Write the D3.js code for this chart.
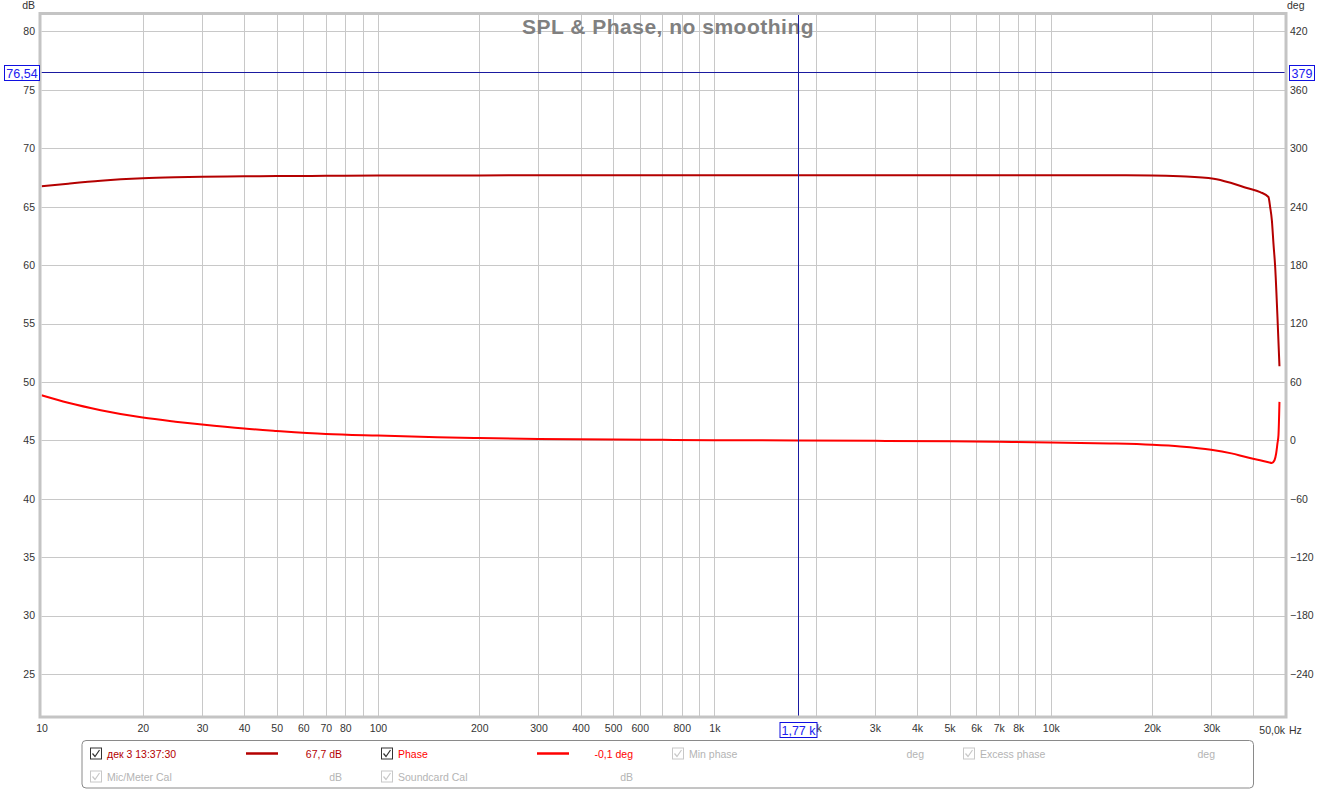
<!DOCTYPE html>
<html><head><meta charset="utf-8">
<script src="https://cdn.jsdelivr.net/npm/d3@7"></script>
<style>
html,body{margin:0;padding:0;background:#fff;}
svg{display:block;font-family:Arial,"Liberation Sans",sans-serif;}
</style></head>
<body>
<svg id="c" width="1337" height="790"></svg>
<script>
// ---- data ----
const splFreq = [10,12,15,20,25,30,40,50,70,100,150,200,300,500,1000,1770,3000,5000,10000,15000,20000,24200,30470,34400,38250,41900,44340,44860,45390,45890,46430,47160,47810];
const splDb   = [66.74,66.97,67.22,67.43,67.52,67.57,67.60,67.62,67.64,67.66,67.67,67.68,67.69,67.70,67.70,67.70,67.69,67.69,67.69,67.69,67.67,67.60,67.40,67.03,66.60,66.25,65.83,64.97,63.83,61.84,59.84,55.56,51.35];
const phaseFreq = [10,12,15,20,25,30,40,50,70,100,150,200,300,500,700,1000,1770,3000,5000,7000,10000,15000,20000,24240,29950,34420,38240,41870,44340,45390,46210,46740,47160,47490,47810];
const phaseDeg  = [46.3,38.6,31.0,23.4,19.2,16.2,12.1,9.7,6.6,4.9,3.3,2.4,1.5,0.8,0.5,0.2,-0.1,-0.5,-1.0,-1.5,-2.1,-3.2,-4.6,-6.3,-9.6,-13.4,-17.4,-20.4,-22.4,-23.2,-20.4,-13.5,-3.2,5.3,39.5];
const dbTicks  = [25,30,35,40,45,50,55,60,65,70,75,80];
const degTicks = [-240,-180,-120,-60,0,60,120,180,240,300,360,420];
const xTickVals = [10,20,30,40,50,60,70,80,100,200,300,400,500,600,800,1000,2000,3000,4000,5000,6000,7000,8000,10000,20000,30000];
const xGridVals = [20,30,40,50,60,70,80,90,100,200,300,400,500,600,700,800,900,1000,2000,3000,4000,5000,6000,7000,8000,9000,10000,20000,30000,40000];
const cursor = {freq:1770, db:76.54, freqLabel:"1,77 k", dbLabel:"76,54", degLabel:"379"};
const legendRow1 = [
  {label:"дек 3 13:37:30", value:"67,7 dB", color:"#b40000", line:true, active:true},
  {label:"Phase", value:"-0,1 deg", color:"#ff0000", line:true, active:true},
  {label:"Min phase", value:"deg", color:"#b4b4b4", line:false, active:false},
  {label:"Excess phase", value:"deg", color:"#b4b4b4", line:false, active:false}
];
const legendRow2 = [
  {label:"Mic/Meter Cal", value:"dB", color:"#b4b4b4", line:false, active:false},
  {label:"Soundcard Cal", value:"dB", color:"#b4b4b4", line:false, active:false}
];

// ---- layout ----
const L=41.5, R=1286, T=14.5, B=717;
const svg = d3.select("#c");
const x = d3.scaleLog().domain([10,50000]).range([L,R]);
const y = d3.scaleLinear().domain([21.32,81.45]).range([B,T]);
const y2 = d3.scaleLinear().domain([(21.32-45)*12,(81.45-45)*12]).range([B,T]);
const px = v => Math.round(v)+0.5;
const fs = "10.5px";

svg.append("defs").append("clipPath").attr("id","clip")
  .append("rect").attr("x",L).attr("y",T).attr("width",R-L).attr("height",B-T);

// grid
const grid = svg.append("g").attr("stroke","#c8c8c8").attr("stroke-width",1);
grid.selectAll("line.v").data(xGridVals).join("line")
  .attr("x1",d=>px(x(d))).attr("x2",d=>px(x(d))).attr("y1",T).attr("y2",B);
grid.selectAll("line.h").data(dbTicks).join("line")
  .attr("y1",d=>px(y(d))).attr("y2",d=>px(y(d))).attr("x1",L).attr("x2",R);

// title
svg.append("text").attr("x",668).attr("y",34).attr("text-anchor","middle")
  .attr("font-size","21px").attr("font-weight","bold").attr("fill","#808080")
  .attr("letter-spacing","0.5px")
  .text("SPL & Phase, no smoothing");

// curves
const plot = svg.append("g").attr("clip-path","url(#clip)");
const splPts = splFreq.map((f,i)=>[x(f),y(splDb[i])]);
const phPts = phaseFreq.map((f,i)=>[x(f),y2(phaseDeg[i])]);
const line = d3.line().curve(d3.curveMonotoneX);
plot.append("path").attr("d",line(phPts)).attr("fill","none").attr("stroke","#ff0000").attr("stroke-width",2);
plot.append("path").attr("d",line(splPts)).attr("fill","none").attr("stroke","#b40000").attr("stroke-width",2);

// cursor lines
const cx = px(x(cursor.freq)), cy = px(y(cursor.db));
plot.append("line").attr("x1",cx).attr("x2",cx).attr("y1",T).attr("y2",B).attr("stroke","#1a1aa0").attr("stroke-width",1);
svg.append("line").attr("x1",L).attr("x2",R).attr("y1",cy).attr("y2",cy).attr("stroke","#1a1aa0").attr("stroke-width",1);

// frame
svg.append("rect").attr("x",40).attr("y",13.5).attr("width",1246).attr("height",703.5)
  .attr("fill","none").attr("stroke","#c4c4c4").attr("stroke-width",3);

// axes labels
const yAxisL = d3.axisLeft(y).tickValues(dbTicks).tickSize(0).tickPadding(0);
svg.append("g").attr("transform",`translate(35,0)`).call(yAxisL)
  .call(g=>g.select(".domain").remove())
  .selectAll("text").attr("font-size",fs).attr("fill","#333").attr("font-family","Arial,'Liberation Sans',sans-serif");
const yAxisR = d3.axisRight(y2).tickValues(degTicks).tickSize(0).tickPadding(0);
svg.append("g").attr("transform",`translate(1290,0)`).call(yAxisR)
  .call(g=>g.select(".domain").remove())
  .selectAll("text").attr("font-size",fs).attr("fill","#333").attr("font-family","Arial,'Liberation Sans',sans-serif");
const xfmt = v => v<1000 ? String(v) : (v/1000)+"k";
const xAxis = d3.axisBottom(x).tickValues(xTickVals).tickFormat(xfmt).tickSize(0).tickPadding(0);
svg.append("g").attr("transform",`translate(0,725)`).call(xAxis)
  .call(g=>g.select(".domain").remove())
  .selectAll("text").attr("font-size",fs).attr("fill","#333").attr("font-family","Arial,'Liberation Sans',sans-serif");
svg.append("text").attr("x",1285).attr("y",734).attr("text-anchor","end").attr("font-size",fs).attr("fill","#333").text("50,0k");
svg.append("text").attr("x",1289).attr("y",734).attr("font-size",fs).attr("fill","#333").text("Hz");
svg.append("text").attr("x",35).attr("y",9).attr("text-anchor","end").attr("font-size",fs).attr("fill","#333").text("dB");
svg.append("text").attr("x",1287).attr("y",9).attr("font-size",fs).attr("fill","#333").text("deg");

// cursor boxes
function cbox(x0,y0,w,h,t){
  svg.append("rect").attr("x",x0+0.5).attr("y",y0+0.5).attr("width",w).attr("height",h)
    .attr("fill","#fff").attr("stroke","#1010e0").attr("stroke-width",1);
  svg.append("text").attr("x",x0+w/2+0.5).attr("y",y0+h/2+5).attr("text-anchor","middle")
    .attr("font-size","12.5px").attr("fill","#2020f0").text(t);
}
cbox(4, cy-7.5, 35, 15, cursor.dbLabel);
cbox(1289, cy-7.5, 25, 15, cursor.degLabel);
cbox(cx-19, 722, 37, 15, cursor.freqLabel);

// legend
svg.append("rect").attr("x",82).attr("y",740.5).attr("width",1171.5).attr("height",47.5).attr("rx",4)
  .attr("fill","#fff").attr("stroke","#8a8a8a").attr("stroke-width",1);
function legendItem(d,i,row){
  const x0 = 90 + i*291, yc = row===0 ? 753.5 : 776.5;
  const g = svg.append("g");
  const bc = d.active ? "#333" : "#c8c8c8";
  g.append("rect").attr("x",x0+0.5).attr("y",yc-5.5).attr("width",11).attr("height",11)
    .attr("fill","#fff").attr("stroke",bc);
  g.append("path").attr("d",`M${x0+2.5},${yc}L${x0+5},${yc+3}L${x0+9.5},${yc-3.5}`)
    .attr("fill","none").attr("stroke",d.active?"#333":"#c8c8c8").attr("stroke-width",1.2);
  g.append("text").attr("x",x0+17).attr("y",yc+4).attr("font-size",fs).attr("fill",d.color).text(d.label);
  if(d.line) g.append("line").attr("x1",x0+156).attr("x2",x0+188).attr("y1",yc).attr("y2",yc)
    .attr("stroke",d.color).attr("stroke-width",2.5);
  g.append("text").attr("x",x0+252).attr("y",yc+4).attr("text-anchor","end").attr("font-size",fs).attr("fill",d.color).text(d.value);
}
legendRow1.forEach((d,i)=>legendItem(d,i,0));
legendRow2.forEach((d,i)=>legendItem(d,i,1));
</script>
</body></html>
